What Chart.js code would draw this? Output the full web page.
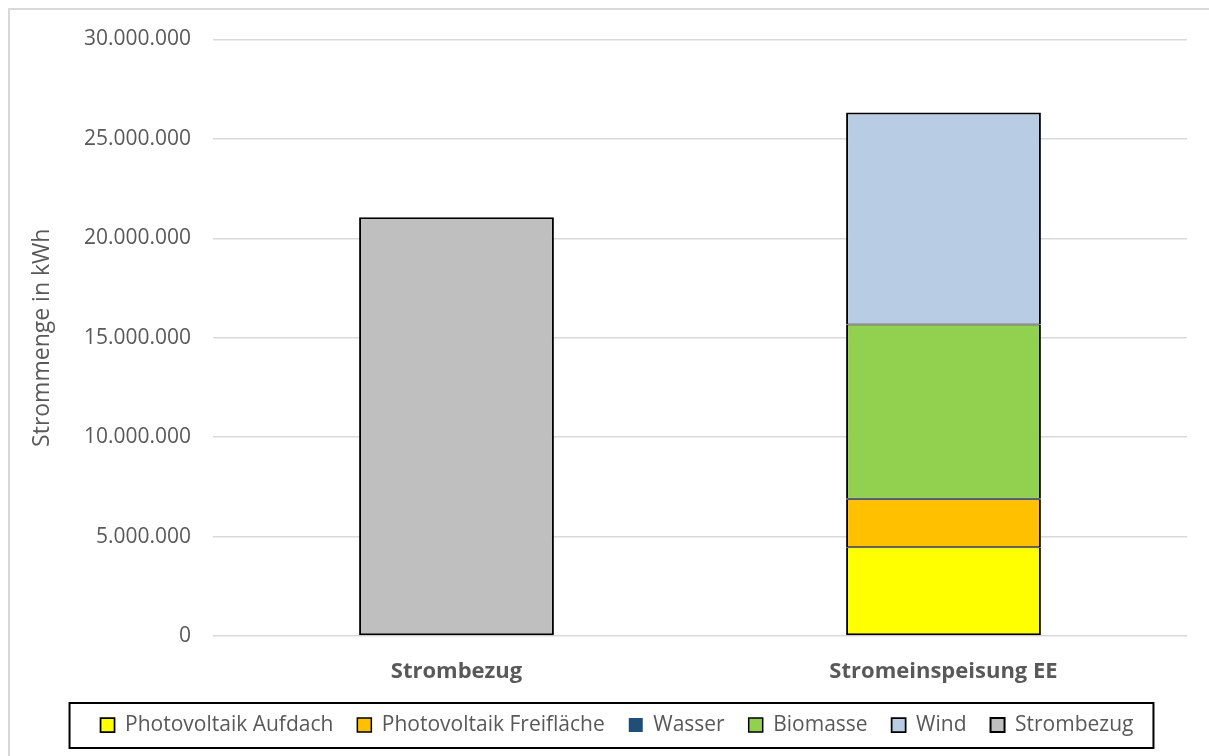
<!DOCTYPE html>
<html>
<head>
<meta charset="utf-8">
<script src="https://cdn.jsdelivr.net/npm/chart.js@4.4.0/dist/chart.umd.min.js"></script>
<style>
  html, body { margin: 0; padding: 0; background: #fff; overflow: hidden; }
  #wrap { position: relative; width: 1209px; height: 756px; }
  #frame { position: absolute; left: 8px; top: 8px; width: 1240px; height: 800px; border: 2px solid #d9d9d9; box-sizing: border-box; }
  canvas { position: absolute; left: 0; top: 0; }
</style>
</head>
<body>
<div id="wrap">
  <div id="frame"></div>
  <canvas id="chart" width="1209" height="756"></canvas>
</div>
<script>
// Kategorien und Werte (kWh)
const categories = ['Strombezug', 'Stromeinspeisung EE'];
const pvAufdach = [null, 4470000];
const pvFreiflaeche = [null, 2410000];
const wasser = [null, 30000];
const biomasse = [null, 8760000];
const wind = [null, 10650000];
const strombezug = [21060000, null];
const yTicks = [0, 5000000, 10000000, 15000000, 20000000, 25000000, 30000000];

const textColor = '#595959';
const fontFamily = '"Open Sans", "DejaVu Sans", sans-serif';

function formatDe(v) {
    return String(v).replace(/\B(?=(\d{3})+(?!\d))/g, '.');
}

// Rahmen: aneinanderliegende Segmente teilen sich eine Linie
const edgeBottom = { top: 1, bottom: 2, left: 2, right: 2 };
const edgeMiddle = { top: 1, bottom: 1, left: 2, right: 2 };
const edgeTop = { top: 2, bottom: 1, left: 2, right: 2 };
const edgeAll = 2;

function barSet(label, data, color, border) {
    return {
        label: label,
        data: data,
        backgroundColor: color,
        borderColor: '#000000',
        borderWidth: border,
        borderSkipped: false,
        categoryPercentage: 1,
        barPercentage: 0.4
    };
}

// Legende etwas nach rechts schieben und mit Rahmen versehen
const legendFrame = {
    id: 'legendFrame',
    afterLayout(chart) {
        const lg = chart.legend;
        if (!lg) return;
        lg.left += 11.5;
        lg.right += 11.5;
    },
    afterDraw(chart) {
        const lg = chart.legend;
        if (!lg || !lg.legendHitBoxes.length) return;
        const boxes = lg.legendHitBoxes;
        const first = boxes[0];
        const last = boxes[boxes.length - 1];
        const ctx = chart.ctx;
        ctx.save();
        ctx.strokeStyle = '#000000';
        ctx.lineWidth = 2;
        const x1 = first.left - 31;
        const x2 = last.left + last.width + 20;
        const y1 = first.top - 11.5;
        const y2 = first.top + 33.5;
        ctx.strokeRect(x1, y1, x2 - x1, y2 - y1);
        ctx.restore();
    }
};

const ctx = document.getElementById('chart').getContext('2d');
const chart = new Chart(ctx, {
    type: 'bar',
    data: {
        labels: categories,
        datasets: [
            barSet('Photovoltaik Aufdach', pvAufdach, '#ffff00', edgeBottom),
            barSet('Photovoltaik Freifläche', pvFreiflaeche, '#ffc000', edgeMiddle),
            barSet('Wasser', wasser, '#1f4e79', 0),
            barSet('Biomasse', biomasse, '#92d050', edgeMiddle),
            barSet('Wind', wind, '#b8cce4', edgeTop),
            barSet('Strombezug', strombezug, '#bfbfbf', edgeAll)
        ]
    },
    options: {
        responsive: false,
        animation: false,
        layout: { padding: { left: 24, right: 22, top: 39.4, bottom: 10.5 } },
        scales: {
            x: {
                stacked: true,
                grid: { display: false },
                border: { display: false },
                ticks: {
                    color: textColor,
                    padding: 14,
                    font: { family: fontFamily, size: 22, weight: 'bold' }
                },
                afterFit(scale) {
                    scale.height -= 8;
                }
            },
            y: {
                stacked: true,
                min: 0,
                max: 30000000,
                afterBuildTicks(scale) {
                    scale.ticks = yTicks.map(v => ({ value: v }));
                },
                grid: { color: '#d9d9d9', lineWidth: 1.5, drawTicks: false },
                border: { display: false },
                ticks: {
                    color: textColor,
                    padding: 22,
                    font: { family: fontFamily, size: 21 },
                    callback: v => formatDe(v)
                },
                title: {
                    display: true,
                    text: 'Strommenge in kWh',
                    color: textColor,
                    font: { family: fontFamily, size: 23 },
                    padding: { top: 5, bottom: 5.3 }
                }
            }
        },
        plugins: {
            legend: {
                position: 'bottom',
                labels: {
                    color: textColor,
                    boxWidth: 14,
                    boxHeight: 14,
                    padding: 24,
                    font: { family: fontFamily, size: 21 }
                }
            },
            tooltip: { enabled: false }
        }
    },
    plugins: [legendFrame]
});
</script>
</body>
</html>
